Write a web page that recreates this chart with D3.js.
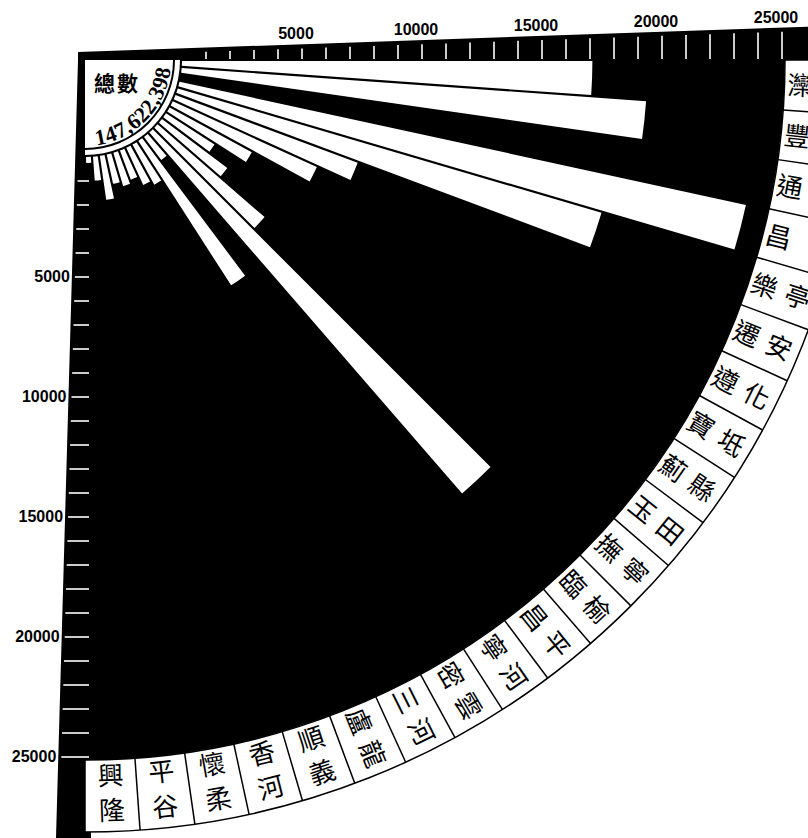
<!DOCTYPE html>
<html>
<head>
<meta charset="utf-8">
<title>冀東各縣</title>
<script src="https://d3js.org/d3.v7.min.js"></script>
<style>
  body { margin: 0; background: #fff; }
  svg { display: block; }
</style>
</head>
<body>
<svg width="808" height="838"></svg>
<script>

// counties, in order round the ring (top -> bottom)
var counties = ["灤縣", "豐潤", "通縣", "昌黎", "樂亭", "遷安", "遵化", "寶坻", "薊縣", "玉田", "撫寧",
                "臨榆", "昌平", "寧河", "密雲", "三河", "盧龍", "順義", "香河", "懷柔", "平谷", "興隆"];
// values (scale 0 - 25000)
var values = [17100, 19400, 0, 24150, 18400, 8100, 6600, 3900, 2400, 3400, 5900,
              19900, 1200, 7150, 1900, 1700, 1300, 1450, 1250, 1850, 1000, 250];
var tickLabels = [5000, 10000, 15000, 20000, 25000];
var totalTitle = "總數";
var totalText = "147,622,398";

var svg = d3.select("svg"),
    W = 808,
    cx = 85, cy = 60,
    r0 = 97, r1 = 697,
    ringIn = 700, ringOut = 772;

var data = counties.map(function(c, i) { return {name: c, value: values[i]}; });

var r = d3.scaleLinear().domain([0, 25000]).range([r0, r1]);
// d3 arc angles: pi/2 = 3 o'clock, pi = 6 o'clock
var ang = d3.scaleBand().domain(counties).range([Math.PI / 2, Math.PI]);

// axis bands get wider away from the corner
function bandTop(x) { return 52 - (x - cx) * 25 / 715; }
function bandLeft(y) { return 78 - (y - cy) * 22 / 778; }

var g = svg.append("g");

// black field: top band, left band, quarter disk
g.append("path")
    .attr("d", "M" + (cx - 7) + "," + bandTop(cx) + "L" + W + "," + bandTop(W) + "L" + W + "," + cy +
               "L" + cx + "," + cy + "Z")
    .attr("fill", "#000");
g.append("path")
    .attr("d", "M" + (cx - 7) + "," + bandTop(cx) + "L" + (cx + 6) + "," + cy + "L" + (cx + 6) + ",838L" +
               bandLeft(838) + ",838L" + bandLeft(cy) + "," + cy + "Z")
    .attr("fill", "#000");
g.append("path")
    .attr("transform", "translate(" + cx + "," + cy + ")")
    .attr("d", d3.arc()({innerRadius: 0, outerRadius: ringIn, startAngle: Math.PI / 2, endAngle: Math.PI}))
    .attr("fill", "#000");

// ticks every 1000
var ticks = d3.range(1000, 25001, 1000);

g.selectAll(".ttick")
  .data(ticks)
  .enter().append("line")
    .attr("class", "ttick")
    .attr("x1", function(d) { return cx + r(d); })
    .attr("x2", function(d) { return cx + r(d); })
    .attr("y1", cy - 1)
    .attr("y2", function(d) { return bandTop(cx + r(d)) + 4; })
    .attr("stroke", "#fff")
    .attr("stroke-width", 1.6);

g.selectAll(".ltick")
  .data(ticks)
  .enter().append("line")
    .attr("class", "ltick")
    .attr("y1", function(d) { return cy + r(d); })
    .attr("y2", function(d) { return cy + r(d); })
    .attr("x1", function(d) { return bandLeft(cy + r(d)) + 3; })
    .attr("x2", cx + 4)
    .attr("stroke", "#fff")
    .attr("stroke-width", 1.6);

g.selectAll(".tlab")
  .data(tickLabels)
  .enter().append("text")
    .attr("class", "tlab")
    .attr("x", function(d) { return cx + r(d) - 6; })
    .attr("y", function(d) { return bandTop(cx + r(d)) - 5; })
    .attr("text-anchor", "middle")
    .attr("font-family", "Liberation Sans, Arial, sans-serif")
    .attr("font-weight", "bold")
    .attr("font-size", 16)
    .text(function(d) { return d; });

g.selectAll(".llab")
  .data(tickLabels)
  .enter().append("text")
    .attr("class", "llab")
    .attr("x", function(d) { return bandLeft(cy + r(d)) - 2; })
    .attr("y", function(d) { return cy + r(d) + 5; })
    .attr("text-anchor", "end")
    .attr("font-family", "Liberation Sans, Arial, sans-serif")
    .attr("font-weight", "bold")
    .attr("font-size", 16)
    .text(function(d) { return d; });

// bars
var bar = d3.arc()
    .innerRadius(r0)
    .outerRadius(function(d) { return r(d.value); })
    .startAngle(function(d) { return ang(d.name); })
    .endAngle(function(d) { return ang(d.name) + ang.bandwidth(); })
    .padAngle(0.022)
    .padRadius(100);

g.append("g")
    .attr("transform", "translate(" + cx + "," + cy + ")")
  .selectAll("path")
  .data(data.filter(function(d) { return d.value > 0; }))
  .enter().append("path")
    .attr("d", bar)
    .attr("fill", "#fff");

// hub
var hub = g.append("g").attr("transform", "translate(" + cx + "," + cy + ")");
hub.append("path")
    .attr("d", d3.arc()({innerRadius: 0, outerRadius: 95, startAngle: Math.PI / 2, endAngle: Math.PI}))
    .attr("fill", "#fff");
hub.append("path")
    .attr("d", d3.arc()({innerRadius: 88, outerRadius: 90, startAngle: Math.PI / 2, endAngle: Math.PI}))
    .attr("fill", "#000");
hub.append("text")
    .attr("x", 9)
    .attr("y", 31)
    .attr("font-family", "Noto Sans CJK TC")
    .attr("font-weight", "bold")
    .attr("font-size", 21)
    .attr("letter-spacing", 2)
    .text(totalTitle);

// total written glyph by glyph along the inside of the hub arc
var numG = hub.append("g")
    .attr("font-family", "Liberation Serif, serif")
    .attr("font-size", 22)
    .attr("font-weight", "bold");
var glyphs = numG.selectAll("text")
  .data(totalText.split(""))
  .enter().append("text")
    .attr("text-anchor", "middle")
    .text(function(d) { return d; });
var widths = [];
glyphs.each(function() { widths.push(this.getComputedTextLength() + 0.5); });
var baseR = 86,
    arcLen = d3.sum(widths),
    start = 44 * Math.PI / 180 + arcLen / baseR / 2,
    acc = 0;
glyphs.attr("transform", function(d, i) {
  var t = start - (acc + widths[i] / 2) / baseR;
  acc += widths[i];
  return "translate(" + (baseR * Math.cos(t)) + "," + (baseR * Math.sin(t)) + ") rotate(" +
         (t * 180 / Math.PI - 90) + ")";
});

// label ring
var ring = g.append("g").attr("transform", "translate(" + cx + "," + cy + ")");
ring.append("path")
    .attr("d", d3.arc()({innerRadius: ringIn, outerRadius: ringOut, startAngle: Math.PI / 2, endAngle: Math.PI}))
    .attr("fill", "#fff")
    .attr("stroke", "#000")
    .attr("stroke-width", 1.5);
ring.selectAll(".div")
  .data(counties.slice(1))
  .enter().append("line")
    .attr("class", "div")
    .attr("x1", function(d) { return ringIn * Math.sin(ang(d)); })
    .attr("y1", function(d) { return -ringIn * Math.cos(ang(d)); })
    .attr("x2", function(d) { return ringOut * Math.sin(ang(d)); })
    .attr("y2", function(d) { return -ringOut * Math.cos(ang(d)); })
    .attr("stroke", "#000")
    .attr("stroke-width", 1.5);

// characters turn with the ring, except the lowest cells which stand upright
var chars = [];
counties.forEach(function(c) {
  var a = ang(c) + ang.bandwidth() / 2,
      deg = (a - Math.PI / 2) * 180 / Math.PI,
      rot = deg < 70 ? deg : deg - 90;
  chars.push({ch: c[0], R: 716, a: a, rot: rot});
  chars.push({ch: c[1], R: 751, a: a, rot: rot});
});
// the scan cuts off the outer characters at the right edge
chars = chars.filter(function(d) { return cx + d.R * Math.sin(d.a) < W - 2; });

ring.selectAll(".lab")
  .data(chars)
  .enter().append("text")
    .attr("class", "lab")
    .attr("transform", function(d) {
      return "translate(" + (d.R * Math.sin(d.a)) + "," + (-d.R * Math.cos(d.a)) + ") rotate(" + d.rot + ")";
    })
    .attr("text-anchor", "middle")
    .attr("dy", "0.36em")
    .attr("font-family", "Noto Sans CJK TC")
    .attr("font-size", 26)
    .text(function(d) { return d.ch; });

</script>
</body>
</html>
